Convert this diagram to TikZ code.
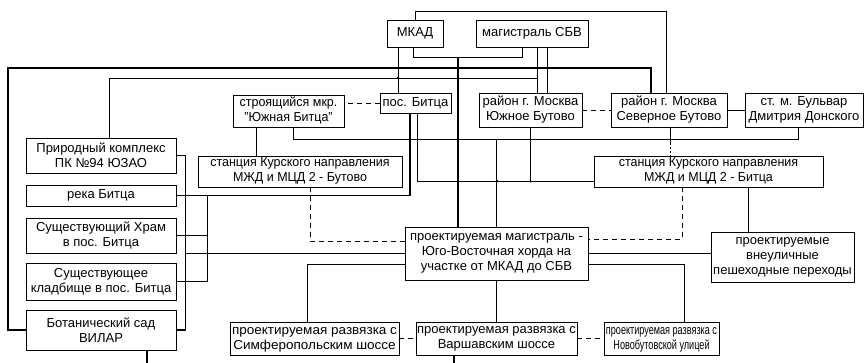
\documentclass[tikz,border=0pt]{standalone}
\usepackage{fontspec}
\setmainfont{Liberation Sans}
\begin{document}
\begin{tikzpicture}[x=1pt,y=-1pt,
  box/.style={draw, line width=0.8pt, fill=white, align=center, inner sep=0pt,
    font=\fontsize{13}{15}\selectfont},
  ln/.style={line width=0.8pt},
  tk/.style={line width=1.6pt},
  dsh/.style={line width=0.8pt, dash pattern=on 5pt off 4pt},
  jdot/.style={circle, fill, inner sep=0pt, minimum size=2.6pt}]
\useasboundingbox (0,0) rectangle (865,363);
% nodes
\node[box, minimum width=56pt, minimum height=27pt] (mkad) at (415,33.5) {МКАД};
\node[box, minimum width=112pt, minimum height=27pt] (sbv) at (532,33.5) {магистраль СБВ};
\node[box, minimum width=111pt, minimum height=32pt] (yb) at (288.5,111) {\scalebox{0.96}[1]{\begin{tabular}{@{}c@{}}строящийся мкр.\\"Южная Битца"\end{tabular}}};
\node[box, minimum width=71pt, minimum height=20pt] (pb) at (415.5,103) {пос. Битца};
\node[box, minimum width=103pt, minimum height=34pt] (ub) at (530.5,110) {район г. Москва\\Южное Бутово};
\node[box, minimum width=116pt, minimum height=34pt] (sb) at (669,110) {район г. Москва\\Северное Бутово};
\node[box, minimum width=118pt, minimum height=34pt] (dd) at (804,110) {ст. м. Бульвар\\Дмитрия Донского};
\node[box, minimum width=150pt, minimum height=35pt] (pk) at (101,155.5) {Природный комплекс\\ПК №94 ЮЗАО};
\node[box, minimum width=150pt, minimum height=21pt] (rb) at (101,195.5) {река Битца};
\node[box, minimum width=150pt, minimum height=35pt] (hr) at (101,235.5) {Существующий Храм\\в пос. Битца};
\node[box, minimum width=150pt, minimum height=37pt] (kl) at (101,281.5) {Существующее\\кладбище в пос. Битца};
\node[box, minimum width=150pt, minimum height=40pt] (bs) at (101,330) {Ботанический сад\\ВИЛАР};
\node[box, minimum width=204pt, minimum height=31pt] (stbut) at (300,171.5) {\scalebox{0.96}[1]{\begin{tabular}{@{}c@{}}станция Курского направления\\МЖД и МЦД 2 - Бутово\end{tabular}}};
\node[box, minimum width=229pt, minimum height=31pt] (stbit) at (708.5,171.5) {\scalebox{0.96}[1]{\begin{tabular}{@{}c@{}}станция Курского направления\\МЖД и МЦД 2 - Битца\end{tabular}}};
\node[box, minimum width=183pt, minimum height=53pt] (hord) at (496.5,253.5) {проектируемая магистраль -\\Юго-Восточная хорда на\\участке от МКАД до СБВ};
\node[box, minimum width=143pt, minimum height=50pt] (per) at (782.5,257) {проектируемые\\внеуличные\\пешеходные переходы};
\node[box, minimum width=169pt, minimum height=33pt] (sim) at (314.5,338.5) {\scalebox{1.04}[1]{\begin{tabular}{@{}c@{}}проектируемая развязка с\\Симферопольским шоссе\end{tabular}}};
\node[box, minimum width=161pt, minimum height=33pt] (var) at (496.5,338.5) {проектируемая развязка с\\Варшавским шоссе};
\node[box, minimum width=115pt, minimum height=33pt] (nov) at (661.5,338.5) {\scalebox{0.7}[1]{\begin{tabular}{@{}c@{}}проектируемая развязка с\\Новобутовской улицей\end{tabular}}};
% helper coordinates
\coordinate (busA) at (185,0);
\coordinate (br) at (458,57);
% connectors
\draw[tk] (bs.west) -| (8,68) -| ([xshift=-18pt]sb.north);
\draw[ln] (mkad.north) -- ++(0,-8) -| ([xshift=-3pt]sb.north);
\draw[ln] ([xshift=-2pt]mkad.south) -- ++(0,10) -| ([xshift=-10pt]sbv.south);
\draw[tk] (br) -- (br |- hord.north);
\draw[ln] ([xshift=-17pt]mkad.south) -- ([xshift=-17.5pt]pb.north);
\draw[ln] ([xshift=8pt]pk.north) |- (537,78);
\draw[ln] ([xshift=5pt]sbv.south) -- ([xshift=6.5pt]ub.north);
\draw[ln] ([xshift=15pt]sbv.south) -- ([xshift=16.5pt]ub.north);
\draw[ln] ([xshift=4.5pt]yb.south) |- (798,139) -- ([xshift=-6pt]dd.south);
\draw[ln] ([xshift=1.5pt]pb.south) |- ([yshift=-9.5pt]stbit.west);
\draw[ln] (ub.south) -- ++(0,54) coordinate (j2);
\draw[ln] (hord.north) -- ++(0,-88);
\draw[tk] ([xshift=-5.5pt]pb.south) |- (rb.east);
\draw[tk] (pk.east) -| ([xshift=9pt]bs.east) -- (bs.east);
\draw[ln] (hord.west) -- (hord.west -| busA);
\draw[tk] (hr.east) -- ++(31,0);
\draw[ln] (kl.east) -| ([xshift=31pt]rb.east);
\draw[ln] ([xshift=-32.5pt]yb.south) -- ([xshift=-44pt]stbut.north);
\draw[dsh] ([xshift=10pt]stbut.south) |- ([yshift=12.5pt]hord.west);
\draw[dsh] ([xshift=-26.5pt]stbit.south) |- ([yshift=14.5pt]hord.east);
\draw[ln] ([xshift=39.5pt]stbit.south) -- ([xshift=-34.5pt]per.north);
\draw[ln] ([xshift=1pt]sb.south) -- ++(0,16) coordinate (sbm);
\draw[dsh, dash pattern=on 2pt off 2pt] (sbm) -- ([xshift=-38.5pt]stbit.north);
\draw[ln] (hord.east) -- (hord.east -| per.west);
\draw[ln] ([yshift=-10.5pt]hord.east) -| ([xshift=22.5pt]nov.north);
\draw[ln] ([yshift=-10.5pt]hord.west) -| ([xshift=-7.5pt]sim.north);
\draw[ln] (hord.south) -- (var.north);
\draw[tk] ([xshift=-42.5pt]var.south) -- ++(0,9);
\draw[tk] ([xshift=46pt]bs.south) -- ++(0,14);
\draw[dsh] (pb.west) -- (pb.west -| yb.east);
\draw[dsh] (ub.east) -- (sb.west);
\draw[ln] (sb.east) -- (dd.west);
\draw[dsh] (sim.east) -- (var.west);
\draw[dsh] (var.east) -- (nov.west);
% junction dots
\node[jdot] at (398,78) {};
\node[jdot] at (497,181) {};
\node[jdot] at (j2) {};
\end{tikzpicture}
\end{document}
